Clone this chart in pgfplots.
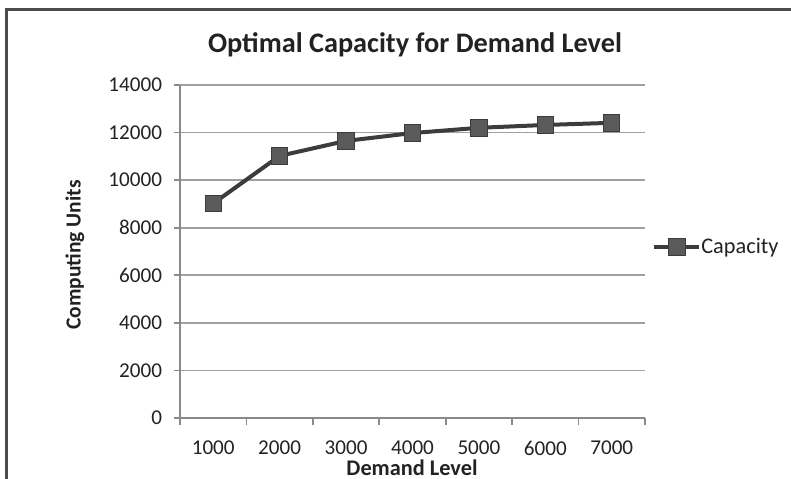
\documentclass[border=0pt]{standalone}
\usepackage{fontspec}
\setmainfont{Carlito}
\usepackage{pgfplots}
\pgfplotsset{compat=1.18}
\definecolor{txt}{HTML}{222222}
\definecolor{gridc}{HTML}{A0A0A0}
\definecolor{axc}{HTML}{8A8A8A}
\definecolor{serc}{HTML}{3C3C3C}
\definecolor{mfill}{HTML}{5A5A5A}
\begin{document}
\begin{tikzpicture}[x=1bp,y=1bp]
\useasboundingbox (0,0) rectangle (395.5,239.5);
\draw[line width=1.5bp, color=black!70] (3.5,-3) -- (3.5,234.5) -- (400,234.5);
\begin{axis}[
  at={(90bp,30.5bp)}, anchor=south west,
  scale only axis, width=232.5bp, height=166.5bp,
  xmin=-0.5, xmax=6.5, ymin=0, ymax=14000,
  xtick={0,...,6},
  xticklabels={1000,2000,3000,4000,5000,6000,7000},
  minor xtick={-0.5,0.5,...,6.5},
  ytick={0,2000,...,14000},
  scaled ticks=false,
  /pgf/number format/assume math mode=true,
  /pgf/number format/set thousands separator={},
  axis x line*=bottom, axis y line*=left,
  axis line style={color=axc, line width=0.9bp},
  tick align=outside,
  xtick pos=bottom, ytick pos=left,
  major tick length=3bp, minor tick length=3.5bp,
  x tick style={draw=none},
  minor x tick style={draw=axc, line width=0.9bp},
  y tick style={color=axc, line width=0.9bp},
  ymajorgrids, grid style={color=gridc, line width=0.9bp},
  ticklabel style={font=\fontsize{10.6}{12}\selectfont, color=txt},
  xticklabel style={yshift=-5bp},
  yticklabel style={xshift=-2.5bp},
  legend style={at={(1.015,0.5135)}, anchor=west, draw=none, fill=none,
    font=\fontsize{11.2}{13}\selectfont, text=txt, inner sep=0pt,
    /tikz/every odd column/.style={column sep=-2bp}},
  legend image code/.code={\draw[mark repeat=2,mark phase=2] plot coordinates {(0bp,0bp) (11.25bp,0bp) (22.5bp,0bp)};},
  clip=false,
]
\addplot[color=serc, line width=2bp, mark=square*, mark size=4.1bp,
  mark options={fill=mfill, draw=serc, line width=0.5bp}]
  coordinates {(0,9020) (1,11020) (2,11650) (3,11980) (4,12200) (5,12320) (6,12410)};
\addlegendentry{Capacity}
\end{axis}
\node[font=\bfseries\fontsize{14.2}{16}\selectfont, text=txt] at (207.5,217) {Optimal Capacity for Demand Level};
\node[font=\bfseries\fontsize{10.8}{12}\selectfont, text=txt, rotate=90] at (37.5,112) {Computing Units};
\node[font=\bfseries\fontsize{11.2}{13}\selectfont, text=txt] at (206,5.5) {Demand Level};
\end{tikzpicture}
\end{document}
